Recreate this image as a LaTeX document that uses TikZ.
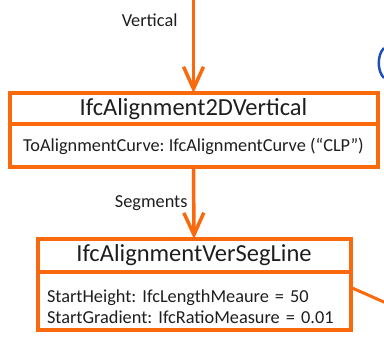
\documentclass[tikz,border=0pt]{standalone}
\usepackage{fontspec}
\setmainfont{Carlito}
\usetikzlibrary{positioning, arrows.meta}
\definecolor{ifcorange}{HTML}{FA6A0C}
\definecolor{ifctext}{HTML}{1E1E1E}
\definecolor{ifcblue}{HTML}{1F4FB4}
\frenchspacing

\begin{document}
\begin{tikzpicture}[x=1pt, y=-1pt,
    classbox/.style={draw=ifcorange, line width=4pt, outer sep=0pt, inner sep=0pt,
                     minimum width=#1, text=ifctext},
    link/.style={draw=ifcorange, line width=3.5pt, -{Straight Barb[length=22pt, width=20pt]}},
    rolelabel/.style={anchor=base east, text=ifctext, font=\fontsize{18.3}{21}\selectfont}]
  \clip (0,0) rectangle (384,339);
  % upper class
  \node[classbox=368pt, minimum height=31.5pt, font=\fontsize{24.5}{28}\selectfont]
    (vert) at (193.5,108.75) {IfcAlignment2DVertical};
  \node[classbox=368pt, minimum height=43pt, font=\fontsize{18.3}{21}\selectfont,
        below=0pt of vert] (vertattr) {ToAlignmentCurve: IfcAlignmentCurve (“CLP”)};
  % lower class
  \node[classbox=313pt, minimum height=33pt, font=\fontsize{24.5}{28}\selectfont]
    (segline) at (194,255.5) {IfcAlignmentVerSegLine};
  \node[classbox=313pt, minimum height=58.5pt, inner xsep=9.5pt, text width=294pt,
        align=left, font=\fontsize{18.3}{21}\selectfont, below=0pt of segline] (seglineattr)
    {\rule{0pt}{24pt}StartHeight: IfcLengthMeaure = 50\\
     StartGradient: IfcRatioMeasure = 0.01};
  % partly visible neighbour
  \draw[ifcblue, line width=2.5pt] (384,48) .. controls (377,55) and (377,71) .. (384,78);
  % connectors
  \coordinate (vertin) at (193.5,-10);
  \coordinate (segout) at (420,318);
  \draw[link] (vertin) -- (vert.north);
  \draw[link] (vertattr.south) -- (segline.north);
  \draw[draw=ifcorange, line width=3pt] ([yshift=14pt]seglineattr.east) -- (segout);
  \node[rolelabel] (vertlabel) at (181,27) {Vertical};
  \node[rolelabel] (seglabel) at (191,208) {Segments};
\end{tikzpicture}
\end{document}
